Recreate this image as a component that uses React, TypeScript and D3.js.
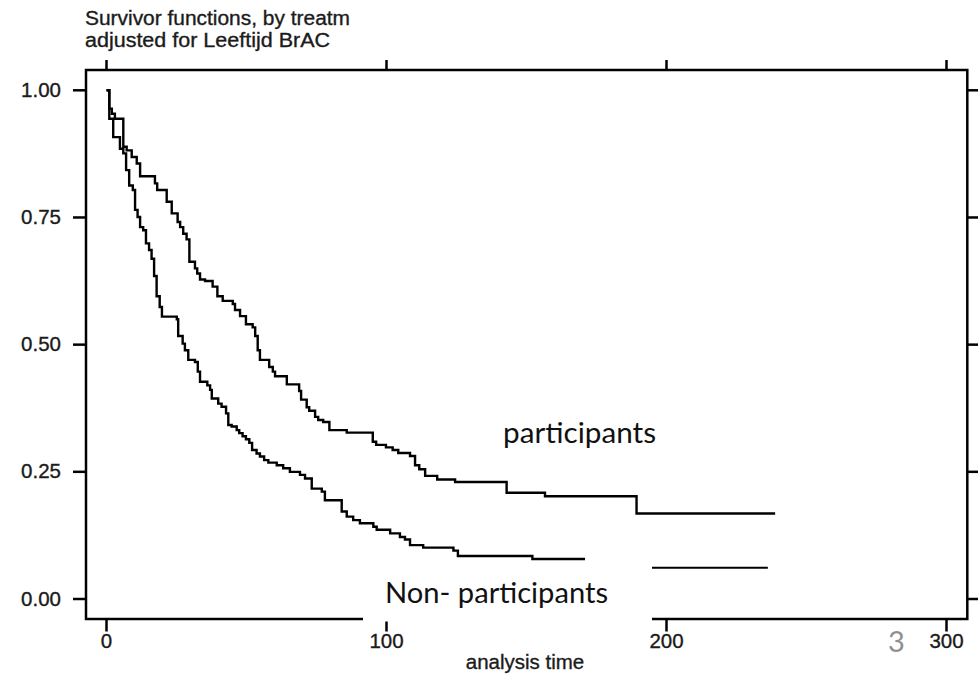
import React from "react";
import * as d3 from "d3";

// ---- data ----
const xTicks = [0, 100, 200, 300];
const yTicks = [0, 0.25, 0.5, 0.75, 1.0];
const yTickLabels = ["0.00", "0.25", "0.50", "0.75", "1.00"];

const participantsTime = [0, 1.0, 1.9, 3.0, 6.0, 7.2, 9.0, 10.8, 12.0, 17.3, 18.1, 21.5, 23.3, 25.4, 26.3, 27.4, 28.6, 29.6, 31.6, 32.4, 33.4, 35.2, 37.9, 39.6, 41.5, 45.1, 45.9, 47.7, 49.8, 52.2, 53.1, 54.0, 54.8, 58.1, 59.4, 60.2, 64.4, 68.8, 69.5, 71.5, 72.4, 74.5, 75.6, 77.4, 79.6, 85.8, 95.1, 96.3, 99.8, 102.2, 104.2, 108.4, 110.2, 111.7, 113.8, 118.1, 124.5, 142.9, 156.6, 189.3, 238.8];
const participantsSurv = [1, 0.964, 0.954, 0.944, 0.889, 0.882, 0.869, 0.856, 0.831, 0.817, 0.804, 0.781, 0.758, 0.741, 0.731, 0.718, 0.707, 0.663, 0.65, 0.64, 0.628, 0.625, 0.614, 0.595, 0.586, 0.58, 0.568, 0.556, 0.54, 0.534, 0.517, 0.489, 0.47, 0.456, 0.447, 0.438, 0.422, 0.409, 0.392, 0.377, 0.37, 0.358, 0.352, 0.348, 0.332, 0.327, 0.309, 0.303, 0.298, 0.293, 0.287, 0.281, 0.263, 0.255, 0.242, 0.235, 0.23, 0.209, 0.202, 0.168, 0.168];

const nonTime = [0, 1.0, 2.4, 4.8, 6.0, 7.0, 8.1, 9.4, 10.2, 11.1, 12.0, 13.1, 14.1, 15.2, 16.1, 17.0, 17.9, 19.0, 19.8, 25.1, 25.6, 27.2, 28.0, 29.2, 31.6, 32.6, 33.4, 36.0, 37.0, 37.6, 39.9, 41.1, 42.7, 43.5, 44.7, 46.5, 47.4, 48.6, 49.8, 51.0, 52.0, 53.6, 54.8, 56.3, 57.8, 60.8, 63.1, 65.5, 69.1, 70.9, 73.3, 76.9, 78.0, 84.0, 85.8, 88.1, 90.5, 95.3, 96.5, 101.3, 104.8, 106.6, 108.4, 113.1, 123.9, 125.5, 152.1, 170.9];
const nonSurv = [1, 0.944, 0.908, 0.885, 0.876, 0.843, 0.813, 0.804, 0.765, 0.751, 0.731, 0.725, 0.699, 0.686, 0.669, 0.635, 0.595, 0.574, 0.555, 0.55, 0.517, 0.502, 0.489, 0.47, 0.466, 0.447, 0.427, 0.42, 0.411, 0.394, 0.384, 0.378, 0.365, 0.342, 0.339, 0.332, 0.326, 0.32, 0.314, 0.307, 0.293, 0.286, 0.28, 0.273, 0.268, 0.263, 0.257, 0.25, 0.244, 0.237, 0.217, 0.211, 0.194, 0.172, 0.162, 0.155, 0.149, 0.142, 0.136, 0.129, 0.122, 0.117, 0.106, 0.101, 0.095, 0.0845, 0.0786, 0.0786];

const nonTailTime = [194.8, 236.2];
const nonTailSurv = [0.0615, 0.0615];

const titleLines = ["Survivor functions, by treatm", "adjusted for Leeftijd BrAC"];
const xAxisTitle = "analysis time";
const labelParticipants = "participants";
const labelNon = "Non- participants";
const slideNumber = "3";

export default function App() {
  const W = 978, H = 676;
  const x = d3.scaleLinear().domain([0, 300]).range([106.5, 946.5]);
  const y = d3.scaleLinear().domain([0, 1]).range([599, 90.3]);
  const frame = { left: 86, right: 967.3, top: 70, bottom: 619 };

  const step = d3
    .line<[number, number]>()
    .x((d) => x(d[0]))
    .y((d) => y(d[1]))
    .curve(d3.curveStepAfter);

  const pPts = participantsTime.map((t, i) => [t, participantsSurv[i]] as [number, number]);
  const nPts = nonTime.map((t, i) => [t, nonSurv[i]] as [number, number]);
  const tailPts = nonTailTime.map((t, i) => [t, nonTailSurv[i]] as [number, number]);

  const stataFont = "'Liberation Sans', Arial, sans-serif";
  const slideFont = "Lato, 'Open Sans', sans-serif";
  const ink = "#1b1b1b";
  const sw = 2.5;
  const textStroke = { stroke: ink, strokeWidth: 0.35 };

  return (
    <svg
      width={W}
      height={H}
      viewBox={`0 0 ${W} ${H}`}
      style={{ position: "absolute", left: 0, top: 0, display: "block", background: "#fff" }}
    >
      <rect x={0} y={0} width={W} height={H} fill="#fff" />
      {/* title */}
      <text x={85} y={25} fontFamily={stataFont} fontSize={20} fill={ink} {...textStroke} textLength={265} lengthAdjust="spacingAndGlyphs">
        {titleLines[0]}
      </text>
      <text x={85} y={46.5} fontFamily={stataFont} fontSize={20} fill={ink} {...textStroke} textLength={245} lengthAdjust="spacingAndGlyphs">
        {titleLines[1]}
      </text>

      {/* frame */}
      <rect
        x={frame.left}
        y={frame.top}
        width={frame.right - frame.left}
        height={frame.bottom - frame.top}
        fill="none"
        stroke="#000"
        strokeWidth={sw}
      />

      {/* y ticks left and right */}
      {yTicks.map((v, i) => (
        <g key={"y" + i}>
          <line x1={73} x2={frame.left} y1={y(v)} y2={y(v)} stroke="#000" strokeWidth={sw} />
          <line x1={frame.right} x2={980} y1={y(v)} y2={y(v)} stroke="#000" strokeWidth={sw} />
          <text
            x={61}
            y={y(v) + 6.5}
            textAnchor="end"
            fontFamily={stataFont}
            fontSize={20.5}
            fill={ink}
            {...textStroke}
          >
            {yTickLabels[i]}
          </text>
        </g>
      ))}

      {/* x ticks top and bottom */}
      {xTicks.map((v, i) => (
        <g key={"x" + i}>
          <line x1={x(v)} x2={x(v)} y1={60} y2={frame.top} stroke="#000" strokeWidth={sw} />
          <line x1={x(v)} x2={x(v)} y1={frame.bottom} y2={631.5} stroke="#000" strokeWidth={sw} />
          <text x={x(v)} y={648} textAnchor="middle" fontFamily={stataFont} fontSize={20.5} fill={ink} {...textStroke}>
            {String(v)}
          </text>
        </g>
      ))}

      <text x={525} y={669} textAnchor="middle" fontFamily={stataFont} fontSize={20.5} fill={ink} {...textStroke}>
        {xAxisTitle}
      </text>

      {/* survival curves */}
      <path d={step(pPts) || ""} fill="none" stroke="#000" strokeWidth={2.4} />
      <path d={step(nPts) || ""} fill="none" stroke="#000" strokeWidth={2.4} />
      <path d={step(tailPts) || ""} fill="none" stroke="#000" strokeWidth={2} />

      {/* slide text box covering the axis */}
      <rect x={363} y={566} width={289} height={55.5} fill="#fff" />
      <text x={385} y={603} fontFamily={slideFont} fontSize={28.5} fill="#111" textLength={223} lengthAdjust="spacingAndGlyphs">
        {labelNon}
      </text>
      <text x={503} y={443} fontFamily={slideFont} fontSize={28.5} fill="#111" textLength={153} lengthAdjust="spacingAndGlyphs">
        {labelParticipants}
      </text>
      <text x={888} y={652} fontFamily={slideFont} fontSize={29} fill="#8f8f8f">
        {slideNumber}
      </text>
    </svg>
  );
}
